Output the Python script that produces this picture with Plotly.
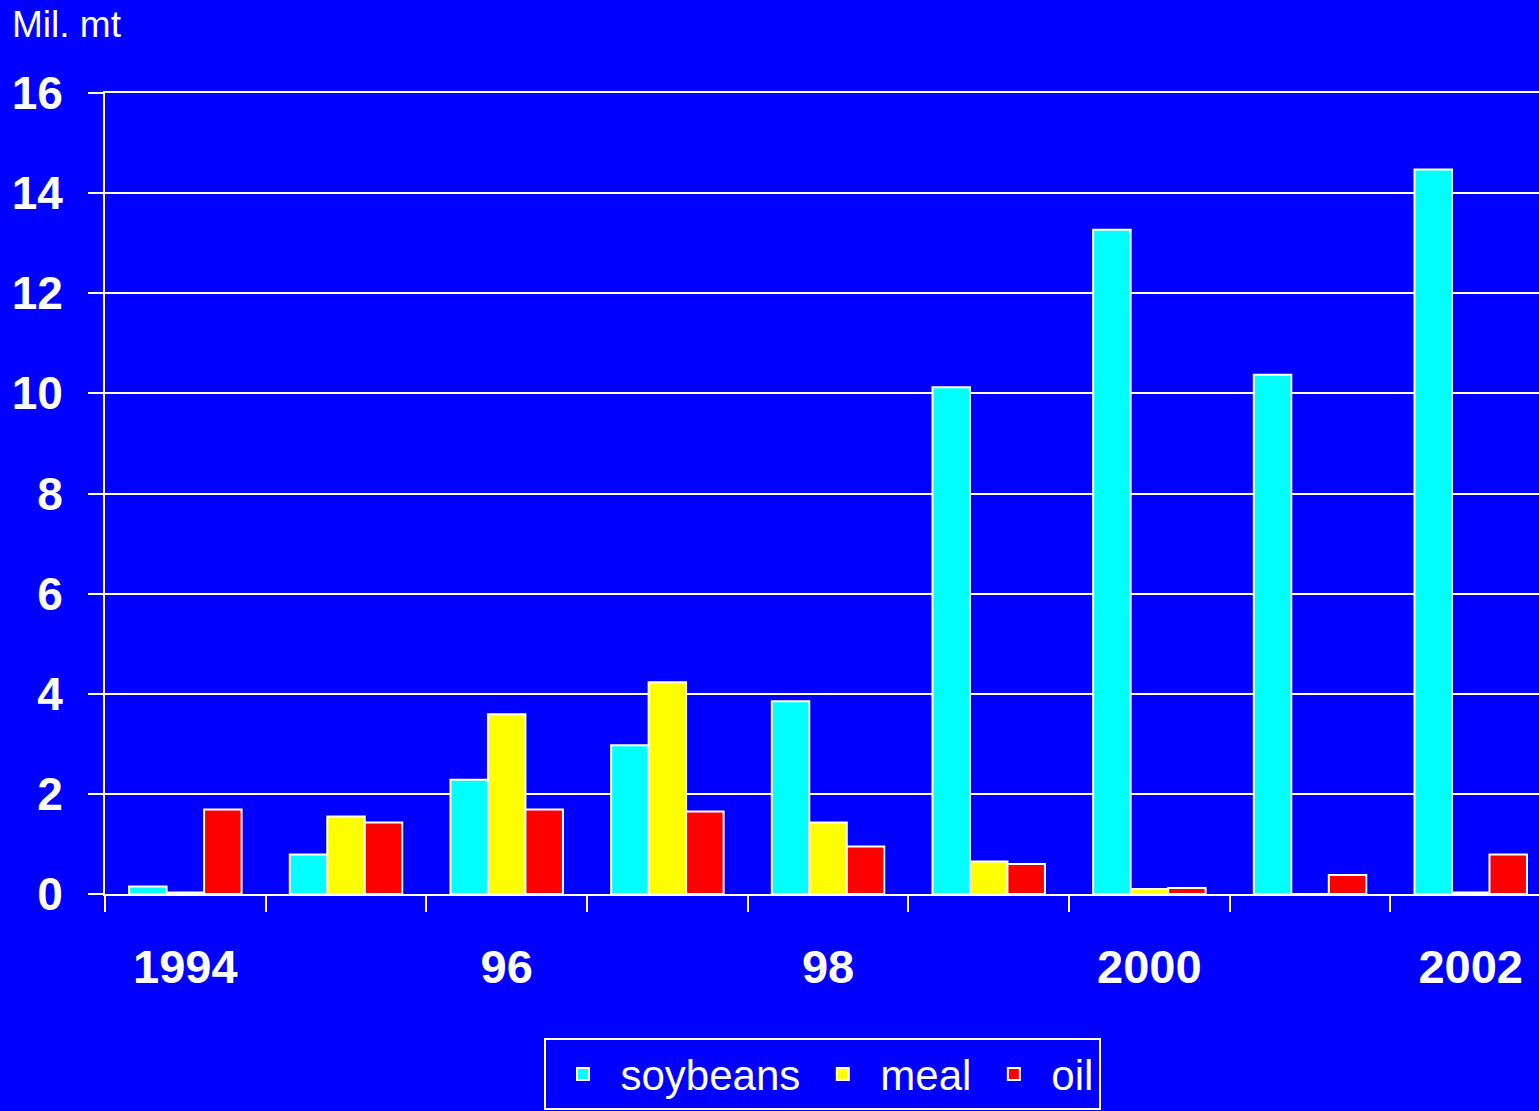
import plotly.graph_objects as go

years = ["1994", "1995", "1996", "1997", "1998", "1999", "2000", "2001", "2002"]
tick_labels = ["1994", "", "96", "", "98", "", "2000", "", "2002"]
soybeans = [0.15, 0.79, 2.28, 2.97, 3.85, 10.12, 13.27, 10.37, 14.47]
meal = [0.03, 1.55, 3.59, 4.23, 1.43, 0.65, 0.10, 0.0, 0.03]
oil = [1.69, 1.43, 1.69, 1.65, 0.95, 0.60, 0.12, 0.38, 0.79]
y_ticks = [0, 2, 4, 6, 8, 10, 12, 14, 16]

FONT = "Arial, Liberation Sans, sans-serif"
BG = "#0000FF"

fig = go.Figure()
for name, vals, col in [("soybeans", soybeans, "#00FFFF"),
                        ("meal", meal, "#FFFF00"),
                        ("oil", oil, "#FF0000")]:
    fig.add_trace(go.Bar(x=years, y=vals, name=name,
                         marker=dict(color=col, line=dict(color="white", width=2))))

fig.update_layout(
    width=1539, height=1111,
    paper_bgcolor=BG, plot_bgcolor=BG,
    margin=dict(l=105, r=0, t=93, b=217),
    barmode="group", bargap=0.3, bargroupgap=0,
    font=dict(family=FONT, color="white"),
    title=dict(text="Mil. mt", x=12 / 1539, xanchor="left", xref="container",
               y=1 - 11 / 1111, yanchor="top", yref="container",
               font=dict(size=37, color="white", family=FONT)),
    showlegend=True,
    legend=dict(orientation="h", x=0.5, xanchor="center", y=-0.18, yanchor="top",
                bordercolor="white", borderwidth=2, bgcolor=BG,
                font=dict(size=42, color="white", family=FONT),
                itemwidth=65),
)
fig.update_xaxes(
    type="category", range=[-0.5, 8.425],
    tickmode="array", tickvals=years, ticktext=tick_labels,
    tickson="boundaries", ticks="outside", ticklen=16, tickwidth=2, tickcolor="white",
    showline=True, linecolor="white", linewidth=2, mirror=True,
    showgrid=False, ticklabelstandoff=31,
    tickfont=dict(size=47, color="white", family=FONT, weight="bold"),
)
fig.update_yaxes(
    range=[0, 16], tickvals=y_ticks,
    ticks="outside", ticklen=15, tickwidth=2, tickcolor="white",
    showline=True, linecolor="white", linewidth=2,
    showgrid=True, gridcolor="white", gridwidth=2, zeroline=False,
    ticklabelstandoff=16,
    tickfont=dict(size=46, color="white", family=FONT, weight="bold"),
)

fig.write_html("out.html")
